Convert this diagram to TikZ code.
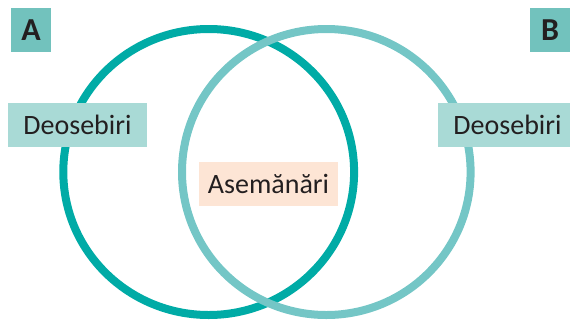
\documentclass[tikz,border=0pt]{standalone}
\usepackage{fontspec}
\setmainfont{Carlito}
\definecolor{darkteal}{HTML}{00ABA6}
\definecolor{lightteal}{HTML}{74C6C6}
\definecolor{letterbox}{HTML}{72C2BD}
\definecolor{diffbox}{HTML}{A9DAD6}
\definecolor{samebox}{HTML}{FDE5D5}
\definecolor{ink}{HTML}{231F20}
\begin{document}
\begin{tikzpicture}[x=1pt,y=-1pt,
  labelbox/.style={inner sep=0pt, minimum width=139pt, minimum height=44pt, text=ink, font=\fontsize{28}{30}\selectfont},
  letterbox/.style={fill=letterbox, inner sep=0pt, minimum width=40pt, minimum height=44pt, text=ink, font=\fontsize{32}{34}\selectfont\bfseries}]
\useasboundingbox (0,0) rectangle (570,325);
\draw[darkteal, line width=8pt] (208.7,172) ellipse [x radius=145.4, y radius=143];
\draw[lightteal, line width=8pt] (326.3,172) ellipse [x radius=144.3, y radius=143];
\node[letterbox] (A) at (31,30) {A};
\node[letterbox] (B) at (550,30) {B};
\node[labelbox, fill=diffbox] (dl) at (77.5,125) {Deosebiri};
\node[labelbox, fill=diffbox] (dr) at (507.5,125) {Deosebiri};
\node[labelbox, fill=samebox] (s) at (268.5,184) {Asemănări};
\end{tikzpicture}
\end{document}
